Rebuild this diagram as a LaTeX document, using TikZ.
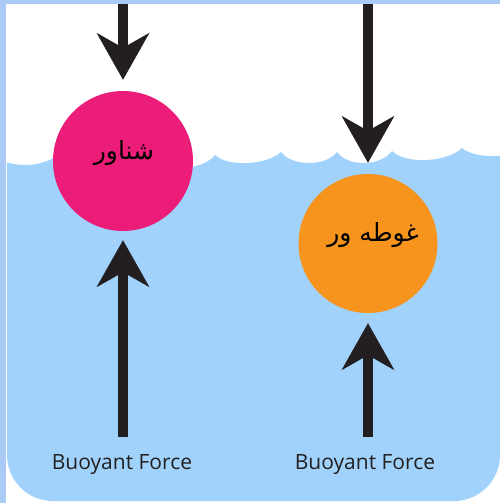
\documentclass[tikz,border=0pt]{standalone}
\usepackage{fontspec}
\setmainfont{Open Sans}
\newfontfamily\arabicfont[Script=Arabic]{DejaVu Sans}
\TeXXeTstate=1
\usetikzlibrary{arrows.meta}
\definecolor{framec}{HTML}{AACBF6}
\definecolor{waterc}{HTML}{A0D2FC}
\definecolor{floatc}{HTML}{EC1D79}
\definecolor{sinkc}{HTML}{F7941E}
\definecolor{arrowc}{HTML}{231F20}
\tikzset{
  ball/.style={circle, inner sep=0pt, draw=none},
  force/.style={draw=arrowc, line width=10.5pt,
    -{Stealth[length=47pt,width=53pt,inset=15pt,line width=0pt]}},
  forcelabel/.style={anchor=base, inner sep=0pt, font=\fontsize{21}{25}\selectfont, text=arrowc},
  arabtext/.style={font=\arabicfont\fontsize{25}{30}\selectfont, text=black}
}
\begin{document}
\begin{tikzpicture}[x=1pt,y=-1pt]
\useasboundingbox (0,0) rectangle (500,503);
\fill[white] (0,0) rectangle (500,503);
\fill[framec] (0,0) rectangle (500,4);
\fill[framec] (0,0) rectangle (6,503);
% water
\begin{scope}
\clip[rounded corners=46pt] (7,100) rectangle (500,501);
\fill[waterc] (-10,152)
  .. controls (4,169.3) and (46,169.3) .. (60,152)
  .. controls (76,170) and (124,171) .. (140,153)
  .. controls (155,171.7) and (200,173.7) .. (215,155)
  .. controls (228.2,167.7) and (267.8,164.7) .. (281,152)
  .. controls (292.2,166.7) and (325.8,166.7) .. (337,152)
  .. controls (348,167.3) and (381,166.3) .. (392,151)
  .. controls (406,165) and (448,162) .. (462,148)
  .. controls (475.6,160) and (516.4,158) .. (530,146)
  -- (530,520) -- (-10,520) -- cycle;
\end{scope}
% bodies
\node[ball, fill=floatc, minimum size=140pt] (float) at (123,161) {};
\node[ball, fill=sinkc, minimum size=139pt] (sink) at (368,243.5) {};
\node[arabtext] (floattext) at (124,153) {\beginR شناور\endR};
\node[arabtext] (sinktext) at (373,235) {\beginR غوطه ور\endR};
% forces
\coordinate (wtop1) at (123,4);
\coordinate (wtop2) at (368,4);
\coordinate (bbot1) at (123,437);
\coordinate (bbot2) at (368,437);
\draw[force, shorten >=11pt] (wtop1) -- (float.north);
\draw[force, shorten >=11pt] (wtop2) -- (sink.north);
\draw[force, shorten >=9pt] (bbot1) -- (float.south);
\draw[force, shorten >=10pt] (bbot2) -- (sink.south);
% labels
\node[forcelabel] (lbl1) at (122,469) {Buoyant Force};
\node[forcelabel] (lbl2) at (365,469) {Buoyant Force};
\end{tikzpicture}
\end{document}
